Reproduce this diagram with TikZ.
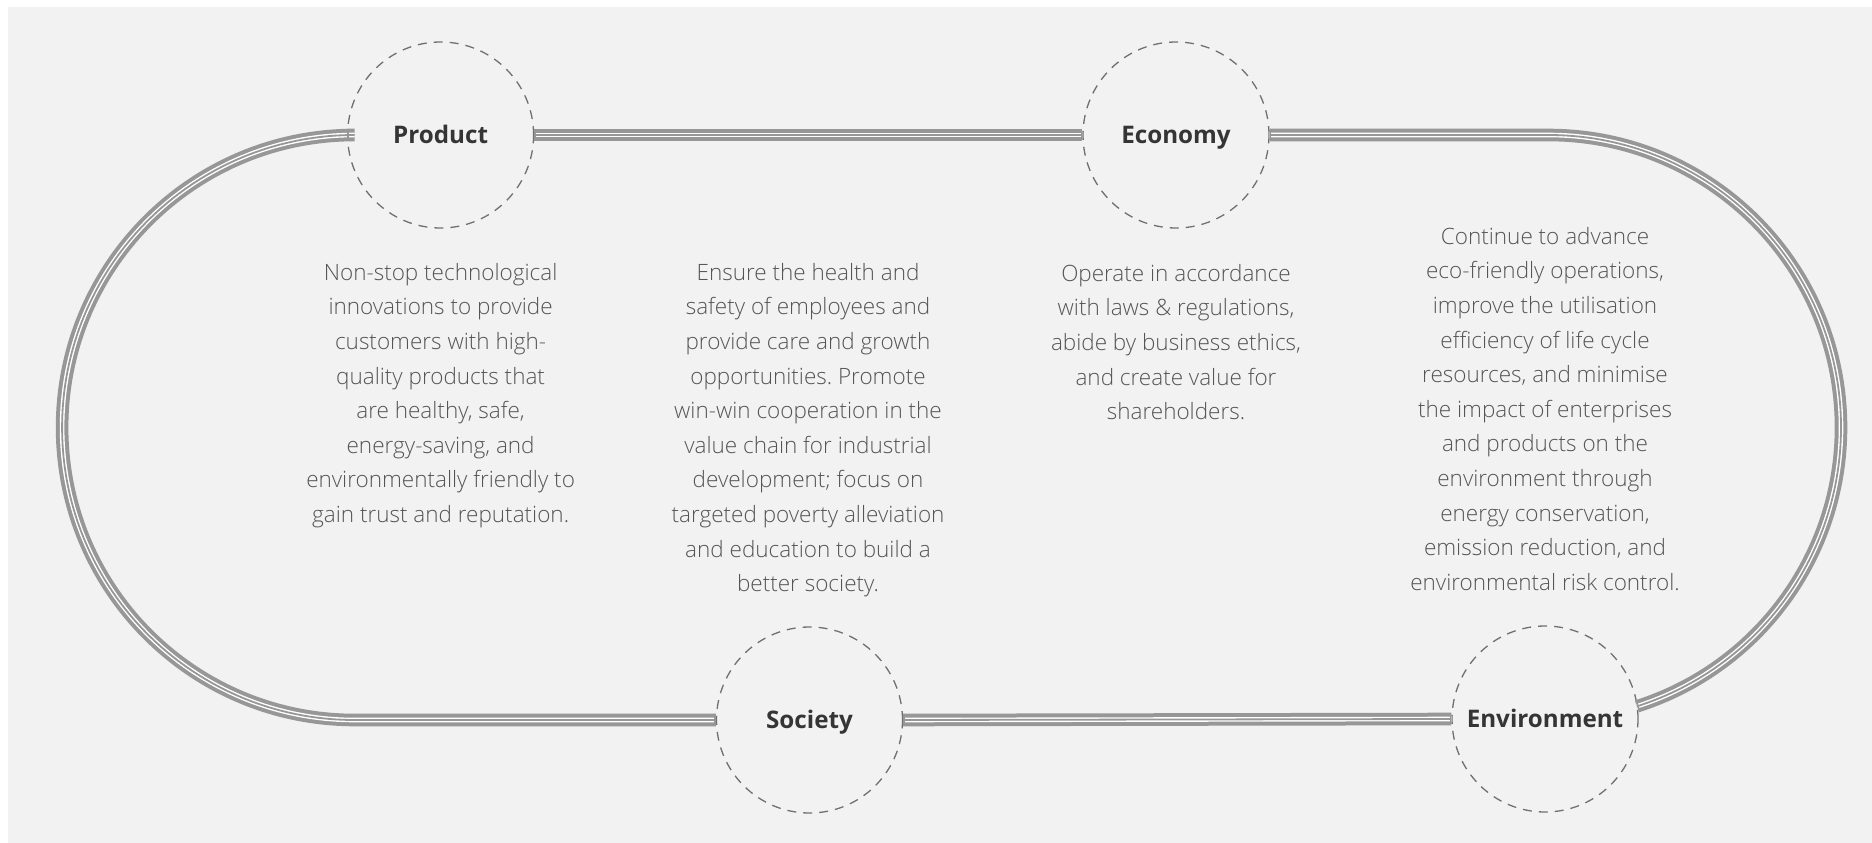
\documentclass[tikz,border=0pt]{standalone}
\usepackage{fontspec}
\usetikzlibrary{calc}
\setmainfont{Open Sans}
\newfontfamily\lightfont{Open Sans Light}
\frenchspacing
\definecolor{panelbg}{HTML}{F2F2F2}
\definecolor{trackc}{HTML}{979797}
\definecolor{circc}{HTML}{707070}
\definecolor{bodyc}{HTML}{555555}
\definecolor{titlec}{HTML}{353535}
\tikzset{
  hub/.style={circle, draw=circc, line width=1.3pt, dash pattern=on 9pt off 7pt,
    minimum size=186pt, inner sep=0pt, font=\fontsize{24.2}{28}\selectfont\bfseries, text=titlec,
    text height=16pt, text depth=0pt},
  track/.style={draw=trackc, line width=4pt, double=white, double distance=4.6pt,
    postaction={draw=trackc, line width=1.8pt}},
  endbar/.style={draw=trackc, line width=1.6pt},
  desc/.style={align=center, inner sep=0pt, anchor=north, text=bodyc,
    font=\lightfont\frenchspacing\fontsize{22.5}{34.6}\selectfont}
}
\begin{document}
\begin{tikzpicture}[x=1pt,y=1pt]
\useasboundingbox (0,0) rectangle (1872,-843);
\fill[panelbg] (8,-7) rectangle (1872,-843);

% hubs
\node[hub] (prod) at (440.6,-135) {Product};
\node[hub] (econ) at (1176,-135) {Economy};
\node[hub] (soc)  at (809.5,-720) {Society};
\node[hub] (env)  at (1545,-719) {Environment};

% track geometry
\coordinate (ltop) at (354.6,-135);
\coordinate (rtop) at (1548.5,-135);
\coordinate (rc) at (1548.5,-427.4);

\draw[track] (prod.west) -- (ltop) arc[start angle=90, end angle=270, radius=292.5] -- (soc.west);
\draw[track] (prod.east) -- (econ.west);
\draw[track] (econ.east) -- (rtop) arc[start angle=90, end angle=-72.4, radius=292.5];
\draw[track] (soc.east) -- (env.west);

% end bars
\foreach \a/\s in {prod.west/0.8, soc.west/-0.8, econ.west/-0.8, env.west/-0.8}{
  \draw[endbar] ([xshift=\s pt, yshift=6.3pt]\a) -- ([xshift=\s pt, yshift=-6.3pt]\a);
}
\foreach \a in {prod.east, soc.east, econ.east}{
  \draw[endbar] ([xshift=0.8pt, yshift=6.3pt]\a) -- ([xshift=0.8pt, yshift=-6.3pt]\a);
}
\draw[endbar] ($(rc)+(-72.2:286.2)$) -- ($(rc)+(-72.2:298.8)$);

% descriptions
\node[desc] (tprod) at (440.6,-263) {Non-stop technological\\innovations to provide\\customers with high-\\quality products that\\are healthy, safe,\\energy-saving, and\\environmentally friendly to\\gain trust and reputation.};
\node[desc] (tsoc) at (808,-263) {Ensure the health and\\safety of employees and\\provide care and growth\\opportunities. Promote\\win-win cooperation in the\\value chain for industrial\\development; focus on\\targeted poverty alleviation\\and education to build a\\better society.};
\node[desc] (tecon) at (1176,-264) {Operate in accordance\\with laws \& regulations,\\abide by business ethics,\\and create value for\\shareholders.};
\node[desc] (tenv) at (1545,-227) {Continue to advance\\eco-friendly operations,\\improve the utilisation\\efficiency of life cycle\\resources, and minimise\\the impact of enterprises\\and products on the\\environment through\\energy conservation,\\emission reduction, and\\environmental risk control.};
\end{tikzpicture}
\end{document}
